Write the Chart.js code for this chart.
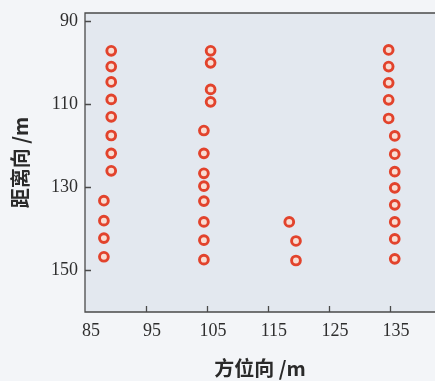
<!DOCTYPE html>
<html><head><meta charset="utf-8">
<script src="https://cdn.jsdelivr.net/npm/chart.js@4/dist/chart.umd.min.js"></script>
<style>html,body{margin:0;padding:0;background:#f2f4f7;overflow:hidden;}canvas{display:block;}</style>
</head><body>
<canvas id="c" width="435" height="381"></canvas>
<script>
// Tick labels
const xTicks = [85, 95, 105, 115, 125, 135];
const yTicks = [90, 110, 130, 150];
// Series values (azimuth x, range y), one small pair of arrays per column of targets
const col1X = [89.3, 89.3, 89.3, 89.3, 89.3, 89.3, 89.3, 89.3, 88.1, 88.1, 88.1, 88.1];
const col1Y = [97.1, 100.9, 104.6, 108.8, 113.0, 117.5, 121.8, 126.0, 133.2, 138.0, 142.2, 146.7];
const col2X = [105.6, 105.6, 105.6, 105.6, 104.5, 104.5, 104.5, 104.5, 104.5, 104.5, 104.5, 104.5];
const col2Y = [97.1, 100.0, 106.4, 109.4, 116.3, 121.8, 126.6, 129.7, 133.3, 138.3, 142.7, 147.4];
const col3X = [118.5, 119.6, 119.6];
const col3Y = [138.3, 142.9, 147.6];
const col4X = [134.8, 134.8, 134.8, 134.8, 134.8, 135.8, 135.8, 135.8, 135.8, 135.8, 135.8, 135.8, 135.8];
const col4Y = [96.9, 100.9, 104.8, 108.9, 113.4, 117.6, 122.0, 126.2, 130.1, 134.2, 138.3, 142.4, 147.2];

const xTitle = '方位向 /m';
const yTitle = '距离向 /m';

function pts(xs, ys) { return xs.map((x, i) => ({x: x, y: ys[i]})); }
const markerStyle = {
  pointRadius: 4.4,
  pointBorderWidth: 2.9,
  pointBorderColor: '#e2432c',
  pointBackgroundColor: '#f8ddd3',
  pointHoverRadius: 4.4,
  showLine: false
};

const framePlugin = {
  id: 'frame',
  beforeDraw(chart) {
    const {ctx, chartArea: a} = chart;
    ctx.save();
    ctx.fillStyle = '#f3f5f8';
    ctx.fillRect(0, 0, chart.width, chart.height);
    ctx.fillStyle = '#e3e8ef';
    ctx.fillRect(a.left, a.top, chart.width - a.left, a.bottom - a.top);
    ctx.restore();
  },
  beforeDatasetsDraw(chart) {
    const {ctx, chartArea: a, scales} = chart;
    ctx.save();
    ctx.strokeStyle = '#4a4a4a';
    ctx.lineWidth = 1.3;
    ctx.beginPath();
    ctx.moveTo(chart.width, a.top);
    ctx.lineTo(a.left, a.top);
    ctx.lineTo(a.left, a.bottom);
    ctx.lineTo(chart.width, a.bottom);
    ctx.stroke();
    ctx.beginPath();
    xTicks.forEach(v => {
      const px = Math.round(scales.x.getPixelForValue(v)) + 0.5;
      if (px > a.left + 2) { ctx.moveTo(px, a.bottom); ctx.lineTo(px, a.bottom - 6); }
    });
    yTicks.forEach(v => {
      const py = Math.round(scales.y.getPixelForValue(v)) + 0.5;
      ctx.moveTo(a.left, py); ctx.lineTo(a.left + 6, py);
    });
    ctx.stroke();
    ctx.restore();
  }
};

const tickFont = {family: "'Liberation Serif', 'DejaVu Serif', serif", size: 18};
const titleFont = {family: "'Noto Sans CJK SC', sans-serif", size: 20, weight: 'bold'};

new Chart(document.getElementById('c'), {
  type: 'scatter',
  data: {
    datasets: [
      Object.assign({label: 'c1', data: pts(col1X, col1Y)}, markerStyle),
      Object.assign({label: 'c2', data: pts(col2X, col2Y)}, markerStyle),
      Object.assign({label: 'c3', data: pts(col3X, col3Y)}, markerStyle),
      Object.assign({label: 'c4', data: pts(col4X, col4Y)}, markerStyle)
    ]
  },
  options: {
    responsive: false,
    animation: false,
    devicePixelRatio: 1,
    layout: {autoPadding: false, padding: {left: 0, top: 13, right: 0, bottom: 0}},
    plugins: {legend: {display: false}, tooltip: {enabled: false}},
    scales: {
      x: {
        type: 'linear', min: 85, max: 142.4,
        grid: {display: false, drawTicks: false},
        border: {display: false},
        afterBuildTicks: s => { s.ticks = xTicks.map(v => ({value: v})); },
        afterFit: s => { s.height = 69; s.paddingLeft = 0; s.paddingRight = 0; },
        ticks: {font: tickFont, color: '#2e2e2e', padding: 8, labelOffset: 6, maxRotation: 0, autoSkip: false},
        title: {display: true, text: xTitle, font: titleFont, color: '#2a2a2a', padding: {top: 0, bottom: 1}}
      },
      y: {
        type: 'linear', min: 88, max: 160, reverse: true,
        grid: {display: false, drawTicks: false},
        border: {display: false},
        afterBuildTicks: s => { s.ticks = yTicks.map(v => ({value: v})); },
        afterFit: s => { s.width = 85; s.paddingTop = 0; s.paddingBottom = 0; },
        ticks: {font: tickFont, color: '#2e2e2e', padding: 7, autoSkip: false},
        title: {display: true, text: yTitle, font: titleFont, color: '#2a2a2a', padding: {top: 8, bottom: 0}}
      }
    }
  },
  plugins: [framePlugin]
});
</script>
</body></html>
